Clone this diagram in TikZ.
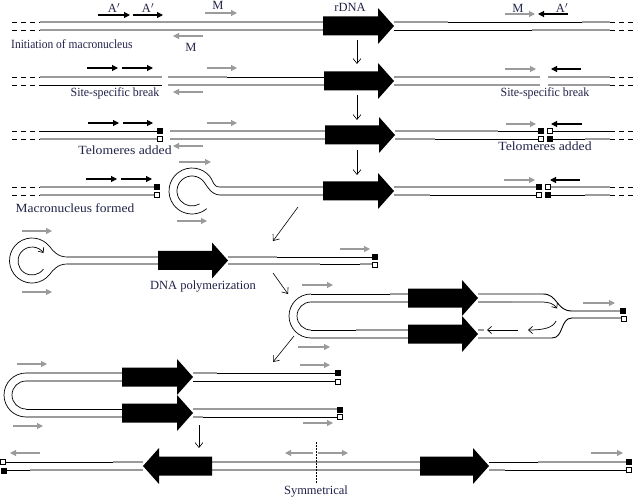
\documentclass[tikz,border=0pt]{standalone}
\usepackage{fontspec}
\setmainfont{Liberation Serif}
\usetikzlibrary{arrows.meta}
\definecolor{grayc}{RGB}{155,155,155}
\definecolor{textc}{RGB}{32,34,72}
\newcommand\blockR[3]{\fill (#1,{#3-9.5}) -- ({#2-16},{#3-9.5}) -- ({#2-16},{#3-18}) -- (#2,#3) -- ({#2-16},{#3+18}) -- ({#2-16},{#3+9.5}) -- (#1,{#3+9.5}) -- cycle;}
\newcommand\blockL[3]{\fill (#1,{#3-9.5}) -- ({#2+16},{#3-9.5}) -- ({#2+16},{#3-18}) -- (#2,#3) -- ({#2+16},{#3+18}) -- ({#2+16},{#3+9.5}) -- (#1,{#3+9.5}) -- cycle;}
\begin{document}
\begin{tikzpicture}[x=1pt,y=-1pt,
  gs/.style={draw=grayc, line width=1.4pt},
  bs/.style={draw=black, line width=0.9pt},
  ts/.style={draw=black, line width=0.7pt},
  ds/.style={draw=black, line width=0.7pt, dash pattern=on 5pt off 4pt},
  ga/.style={draw=grayc, line width=1.1pt, -{Triangle[length=6pt,width=6pt]}},
  ba/.style={draw=black, line width=1.1pt, -{Triangle[length=6pt,width=6pt]}},
  conn/.style={draw=black, line width=0.6pt, -{Straight Barb[length=5pt,width=8pt]}},
  barb/.style={-{Straight Barb[length=4pt,width=7pt]}},
  telF/.style={rectangle, draw=black, fill=black, line width=0.6pt, minimum size=5pt, inner sep=0pt},
  telO/.style={rectangle, draw=black, fill=white, line width=0.6pt, minimum size=5pt, inner sep=0pt},
  lab/.style={text=textc, font=\fontsize{12.5}{15}\selectfont, inner sep=0pt},
  vdash/.style={draw=black, line width=0.5pt, dash pattern=on 1.5pt off 1.5pt}]
\useasboundingbox (0,0) rectangle (638,500);

% ---------------- Row 1 ----------------
\foreach \yy in {22,30} {\draw[ds] (12,\yy) -- (40,\yy); \draw[ds] (610,\yy) -- (637,\yy);}
\draw[gs] (40,22) -- (324,22);
\draw[gs] (40,30) -- (324,30);
\draw[gs] (394,22) -- (448,22); \draw[bs] (448,22) -- (582,22); \draw[gs] (582,22) -- (610,22);
\draw[bs] (394,30) -- (532,30); \draw[gs] (532,30) -- (610,30);
\blockR{323}{394}{26}
\draw[ba] (98,15) -- (130,15);
\draw[ba] (133,15) -- (163,15);
\draw[ga] (205,13) -- (237,13);
\draw[ga] (203,36) -- (173,36);
\draw[ga] (505,14) -- (535,14);
\draw[ba] (568,14) -- (538,14);
\node[lab] (a1) at (114,8) {A$'$};
\node[lab] (a2) at (148,8) {A$'$};
\node[lab] (m1) at (218,5) {M};
\node[lab] (m2) at (191,47) {M};
\node[lab] (rdna) at (350,7.5) {rDNA};
\node[lab] (m3) at (518,8) {M};
\node[lab] (a3) at (562,8) {A$'$};
\node[lab, anchor=west] (init) at (11,44) {\scalebox{0.92}[1]{Initiation of macronucleus}};

% ---------------- Row 2 ----------------
\foreach \yy in {77,85} {\draw[ds] (12,\yy) -- (40,\yy); \draw[ds] (610,\yy) -- (637,\yy);}
\draw[gs] (40,77) -- (162,77); \draw[gs] (168,77) -- (227,77); \draw[bs] (227,77) -- (324,77);
\draw[bs] (40,85) -- (162,85); \draw[gs] (168,85) -- (324,85);
\draw[gs] (394,77) -- (540,77); \draw[gs] (548,77) -- (610,77);
\draw[gs] (394,85) -- (540,85); \draw[gs] (548,85) -- (610,85);
\blockR{324}{394}{81}
\draw[ba] (87,68) -- (118,68);
\draw[ba] (122,68) -- (153,68);
\draw[ga] (207,68) -- (237,68);
\draw[ga] (203,92) -- (173,92);
\draw[ga] (505,69) -- (536,69);
\draw[ba] (581,69) -- (551,69);
\node[lab] (ssb1) at (115,93) {\scalebox{0.95}[1]{Site-specific break}};
\node[lab] (ssb2) at (545,93) {\scalebox{0.95}[1]{Site-specific break}};

% ---------------- Row 3 ----------------
\foreach \yy in {131,139} {\draw[ds] (12,\yy) -- (40,\yy); \draw[ds] (610,\yy) -- (637,\yy);}
\draw[bs] (40,131) -- (158,131);
\draw[gs] (40,139) -- (158,139);
\draw[gs] (170,131) -- (325,131);
\draw[gs] (170,139) -- (325,139);
\draw[gs] (395,131) -- (498,131); \draw[bs] (498,131) -- (539,131);
\draw[gs] (395,139) -- (435,139); \draw[bs] (435,139) -- (539,139);
\draw[bs] (551,131) -- (610,131);
\draw[bs] (551,139) -- (585,139); \draw[gs] (585,139) -- (610,139);
\blockR{325}{395}{135}
\node[telF] (t3a) at (159.5,130.5) {};
\node[telO] (t3b) at (159.5,138.5) {};
\node[telF] (t3c) at (540.5,130.5) {};
\node[telO] (t3d) at (549.5,130.5) {};
\node[telO] (t3e) at (540.5,138.5) {};
\node[telF] (t3f) at (549.5,138.5) {};
\draw[ba] (88,123) -- (119,123);
\draw[ba] (123,123) -- (153,123);
\draw[ga] (207,123) -- (237,123);
\draw[ga] (203,146) -- (173,146);
\draw[ga] (506,124) -- (536,124);
\draw[ba] (582,124) -- (551,124);
\node[lab] (tel1) at (125,150) {\scalebox{1.1}[1]{Telomeres added}};
\node[lab] (tel2) at (545,146) {\scalebox{1.1}[1]{Telomeres added}};

% ---------------- Row 4 ----------------
\foreach \yy in {187,195} {\draw[ds] (12,\yy) -- (40,\yy); \draw[ds] (610,\yy) -- (637,\yy);}
\draw[gs] (40,187) -- (155,187);
\draw[gs] (40,195) -- (155,195);
\draw[ts] (220,187) .. controls (213,187) and (213.4,181.2) .. (210.37,177.16) arc[start angle=-37, end angle=-310, radius=23];
\draw[ts] (220,195) .. controls (211,195) and (206.7,185.2) .. (203.49,181.36) arc[start angle=-40, end angle=-300, radius=15];
\draw[gs] (220,187) -- (323,187);
\draw[gs] (220,195) -- (323,195);
\draw[gs] (394,187) -- (537,187);
\draw[gs] (394,195) -- (430,195); \draw[bs] (430,195) -- (537,195);
\draw[gs] (549,187) -- (610,187);
\draw[bs] (549,195) -- (585,195); \draw[gs] (585,195) -- (610,195);
\blockR{323}{394}{191}
\node[telF] (t4a) at (156.5,186.5) {};
\node[telO] (t4b) at (156.5,194.5) {};
\node[telF] (t4c) at (538.5,186.5) {};
\node[telO] (t4d) at (547.5,186.5) {};
\node[telO] (t4e) at (538.5,194.5) {};
\node[telF] (t4f) at (547.5,194.5) {};
\draw[ba] (86,179) -- (117,179);
\draw[ba] (121,179) -- (152,179);
\draw[ga] (179,162) -- (211,162);
\draw[ga] (177,221) -- (207,221);
\draw[ga] (504,180) -- (535,180);
\draw[ba] (580,180) -- (550,180);
\node[lab] (macf) at (75,208) {\scalebox{1.08}[1]{Macronucleus formed}};

% ---------------- Row 5 ----------------
\draw[ts] (67,257) .. controls (58,257) and (53,251) .. (49.97,246.96) arc[start angle=-37, end angle=-323, radius=22.5] .. controls (53,270) and (58,264) .. (67,264);
\draw[ts, barb] (32,261) ++(35:14) arc[start angle=35, end angle=325, radius=14];
\draw[gs] (67,257) -- (158,257);
\draw[gs] (67,264) -- (158,264);
\draw[gs] (228,257) -- (277,257); \draw[bs] (277,257) -- (373,257);
\draw[gs] (228,264) -- (320,264); \draw[bs] (320,264) -- (360,264); \draw[gs] (360,264) -- (373,264);
\blockR{158}{228}{260.5}
\node[telF] (t5a) at (375,256.5) {};
\node[telO] (t5b) at (375,264.5) {};
\draw[ga] (22,231) -- (52,231);
\draw[ga] (22,292) -- (52,292);
\draw[ga] (340,249) -- (370,249);
\node[lab] (dnap) at (203,287) {DNA polymerization};

% ---------------- Row 6 ----------------
\draw[ts] (311,294) arc[start angle=-90, end angle=-270, radius=22];
\draw[ts] (311,302) arc[start angle=-90, end angle=-270, radius=14];
\draw[bs] (311,294) -- (390,294); \draw[gs] (390,294) -- (408,294);
\draw[gs] (311,302) -- (408,302);
\draw[bs] (311,330) -- (356,330); \draw[gs] (356,330) -- (408,330);
\draw[gs] (311,338) -- (408,338);
\draw[bs] (478,294) -- (543,294) .. controls (558,294) and (556,311) .. (572,311);
\draw[gs] (572,311) -- (621,311);
\draw[bs] (478,338) -- (552,338) .. controls (564,338) and (560,318) .. (572,318);
\draw[gs] (572,318) -- (621,318);
\draw[gs] (478,302) -- (512,302);
\draw[ts, barb] (512,302) -- (540,302) .. controls (550,302) and (554,304) .. (557,308.5);
\draw[ts, barb] (556,321) .. controls (553,328) and (543,330) .. (528,330);
\draw[ts, barb] (518,330) -- (487,330);
\draw[gs] (478,330) -- (484,330);
\blockR{408}{478}{298}
\blockR{408}{478}{334}
\node[telF] (t6a) at (623,310.5) {};
\node[telO] (t6b) at (623.5,318.5) {};
\draw[ga] (302,285) -- (333,285);
\draw[ga] (298,347) -- (330,347);
\draw[ga] (583,303) -- (615,303);

% ---------------- Row 7 ----------------
\draw[ts] (26,373) arc[start angle=-90, end angle=-270, radius=22];
\draw[ts] (26,381) arc[start angle=-90, end angle=-270, radius=14];
\draw[gs] (26,373) -- (122,373);
\draw[gs] (26,381) -- (122,381);
\draw[bs] (26,409) -- (122,409);
\draw[gs] (26,417) -- (122,417);
\draw[gs] (193,373) -- (217,373); \draw[bs] (217,373) -- (336,373);
\draw[bs] (193,381) -- (336,381);
\draw[gs] (193,409) -- (338,409);
\draw[gs] (193,417) -- (203,417); \draw[bs] (203,417) -- (338,417);
\blockR{122}{193}{377}
\blockR{122}{193}{413}
\node[telF] (t7a) at (337.5,373) {};
\node[telO] (t7b) at (337.5,381.5) {};
\node[telF] (t7c) at (339.5,409.5) {};
\node[telO] (t7d) at (339.5,417) {};
\draw[ga] (17,364) -- (47,364);
\draw[ga] (13,426) -- (43,426);
\draw[ga] (300,365) -- (330,365);
\draw[ga] (303,423) -- (333,423);

% ---------------- Row 8 ----------------
\draw[bs] (3,462) -- (113,462); \draw[gs] (113,462) -- (143,462);
\draw[bs] (3,470) -- (30,470); \draw[gs] (30,470) -- (143,470);
\draw[gs] (212,462) -- (420,462);
\draw[gs] (212,470) -- (420,470);
\draw[bs] (489,462) -- (538,462); \draw[gs] (538,462) -- (627,462);
\draw[gs] (489,470) -- (505,470); \draw[bs] (505,470) -- (627,470);
\blockL{212}{143}{466}
\blockR{420}{489}{466}
\node[telO] (t8a) at (2.5,461.5) {};
\node[telF] (t8b) at (3.5,470.5) {};
\node[telF] (t8c) at (628.5,461.5) {};
\node[telO] (t8d) at (628.5,469.5) {};
\draw[ga] (40,453) -- (10,453);
\draw[ga] (313,453) -- (285,453);
\draw[ga] (318,453) -- (348,453);
\draw[ga] (591,453) -- (623,453);
\coordinate (symtop) at (316,442);
\coordinate (symbot) at (316,484);
\draw[vdash] (symtop) -- (symbot);
\node[lab] (sym) at (316,492) {Symmetrical};

% ---------------- Connectors ----------------
\coordinate (c1a) at (357,40);  \coordinate (c1b) at (357,64);
\coordinate (c2a) at (357,95);  \coordinate (c2b) at (357,120);
\coordinate (c3a) at (357,150); \coordinate (c3b) at (357,175);
\coordinate (c4a) at (298,207); \coordinate (c4b) at (273,241);
\coordinate (c5a) at (273,273); \coordinate (c5b) at (288,294);
\coordinate (c6a) at (294,336); \coordinate (c6b) at (273,362);
\coordinate (c7a) at (199,425); \coordinate (c7b) at (199,448);
\draw[conn] (c1a) -- (c1b);
\draw[conn] (c2a) -- (c2b);
\draw[conn] (c3a) -- (c3b);
\draw[conn] (c4a) -- (c4b);
\draw[conn] (c5a) -- (c5b);
\draw[conn] (c6a) -- (c6b);
\draw[conn] (c7a) -- (c7b);
\end{tikzpicture}
\end{document}
